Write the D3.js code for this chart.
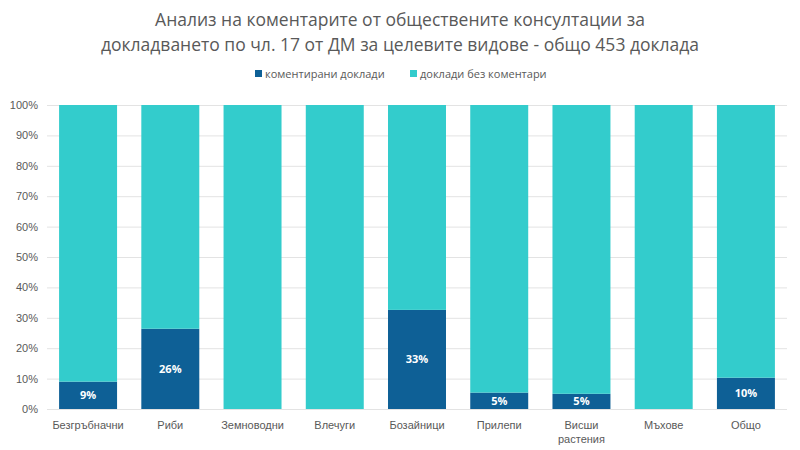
<!DOCTYPE html>
<html>
<head>
<meta charset="utf-8">
<script src="https://cdn.jsdelivr.net/npm/d3@7"></script>
<style>
  body { margin: 0; background: #fff; }
  svg { font-family: "Open Sans", "Noto Sans", sans-serif; }
</style>
</head>
<body>
<div id="chart"></div>
<script>
// categories and values (share of commented reports, %)
const categories = ["Безгръбначни", "Риби", "Земноводни", "Влечуги", "Бозайници", "Прилепи", "Висши растения", "Мъхове", "Общо"];
const commented = [9, 26.4, 0, 0, 32.6, 5.4, 5, 0, 10.3];
const yTicks = [0, 10, 20, 30, 40, 50, 60, 70, 80, 90, 100];
const seriesNames = ["коментирани доклади", "доклади без коментари"];
const colors = ["#0e6096", "#33cccc"];

const width = 800, height = 450;
const margin = { top: 105, right: 13, bottom: 41, left: 47 };

const svg = d3.select("#chart").append("svg")
    .attr("width", width)
    .attr("height", height);

const x = d3.scaleBand()
    .domain(categories)
    .range([margin.left, width - margin.right])
    .paddingInner(0.295)
    .paddingOuter(0.147);

const y = d3.scaleLinear()
    .domain([0, 100])
    .range([height - margin.bottom, margin.top]);

// title
const title = svg.append("text")
    .attr("text-anchor", "middle")
    .attr("fill", "#595959")
    .attr("font-size", 17.5);
title.append("tspan").attr("x", 400).attr("y", 26).text("Анализ на коментарите от обществените консултации за");
title.append("tspan").attr("x", 400).attr("y", 51).text("докладването по чл. 17 от ДМ за целевите видове - общо 453 доклада");

// grid + y axis
svg.append("g")
    .attr("transform", `translate(${margin.left},0)`)
    .call(d3.axisLeft(y).tickValues(yTicks).tickFormat(d => d + "%").tickSize(-(width - margin.left - margin.right)).tickPadding(9))
    .call(g => g.select(".domain").remove())
    .call(g => g.selectAll(".tick line").attr("stroke", "#e3e3e3"))
    .call(g => g.selectAll(".tick text").attr("fill", "#595959").attr("font-size", 11));

// stacked bars
const stackData = categories.map((c, i) => ({ cat: c, a: commented[i], b: 100 - commented[i] }));
const stack = d3.stack().keys(["a", "b"])(stackData);

svg.append("g")
    .selectAll("g")
    .data(stack)
    .join("g")
    .attr("fill", (d, i) => colors[i])
    .selectAll("rect")
    .data(d => d)
    .join("rect")
    .attr("x", d => x(d.data.cat))
    .attr("y", d => y(d[1]))
    .attr("width", x.bandwidth())
    .attr("height", d => y(d[0]) - y(d[1]));

// value labels
svg.append("g")
    .selectAll("text")
    .data(stackData.filter(d => d.a > 0))
    .join("text")
    .attr("x", d => x(d.cat) + x.bandwidth() / 2)
    .attr("y", d => (y(0) + y(d.a)) / 2 + 4)
    .attr("text-anchor", "middle")
    .attr("fill", "#fff")
    .attr("font-weight", "bold")
    .attr("font-size", 11)
    .text(d => Math.round(d.a) + "%");

// x axis labels
svg.append("g")
    .attr("transform", `translate(0,${height - margin.bottom})`)
    .call(d3.axisBottom(x).tickSize(0).tickPadding(12))
    .call(g => g.select(".domain").remove())
    .call(g => g.selectAll(".tick text").attr("fill", "#595959").attr("font-size", 11)
        .each(function (d) {
            const parts = d.split(" ");
            if (parts.length > 1) {
                const t = d3.select(this).text(null);
                parts.forEach((p, i) => t.append("tspan").attr("x", 0).attr("dy", i === 0 ? "0.71em" : "1.3em").text(p));
            }
        }));

// legend
const legend = svg.append("g").attr("font-size", 11).attr("fill", "#595959");
const legendX = [255, 410];
seriesNames.forEach((name, i) => {
    const g = legend.append("g").attr("transform", `translate(${legendX[i]},78)`);
    g.append("rect").attr("x", 0).attr("y", -8).attr("width", 7).attr("height", 7).attr("fill", colors[i]);
    g.append("text").attr("x", 10).attr("y", 0).text(name);
});
</script>
</body>
</html>
